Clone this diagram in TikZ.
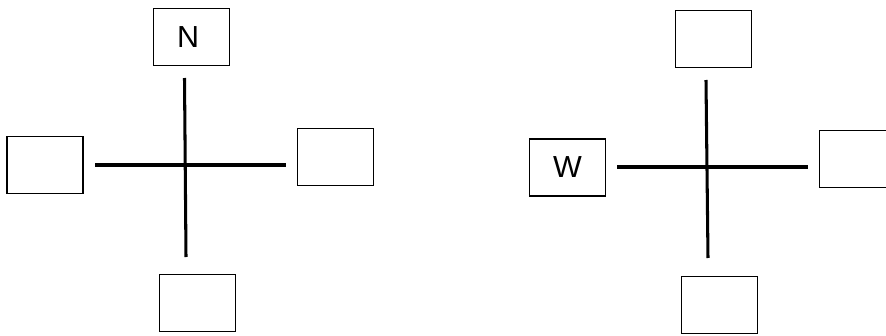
\documentclass[tikz,border=0pt]{standalone}
\usepackage{fontspec}
\setmainfont{Liberation Sans}
\usepackage{tikz}

\begin{document}
\begin{tikzpicture}[
    x=0.03cm, y=-0.03cm,
    every node/.style={draw, line width=1pt, minimum width=2.28cm, minimum height=1.71cm,
        inner sep=0pt, font=\fontsize{26}{30}\selectfont},
    arm/.style={line width=2.6pt}
]
\useasboundingbox (0,0) rectangle (886,336);

% left cross, N on top
\node (nbox) at (191.5,37) {\hspace{-0.2cm}\raisebox{-0.1cm}{N}};
\node (lbox) at (45,165) {};
\node (rbox) at (335.5,157) {};
\node (bbox) at (197.5,303) {};

\coordinate (ltop) at (184.5,78);
\coordinate (lbot) at (186,257);
\coordinate (lleft) at (95,165);
\coordinate (lright) at (286,165);
\draw[arm] (ltop) -- (lbot);
\draw[arm] (lleft) -- (lright);

% right cross, W on the left
\node (tbox2) at (713.5,39) {};
\node (wbox) at (567.5,167.5) {\raisebox{-0.06cm}{W}};
\node (rbox2) at (857.5,159) {};
\node (bbox2) at (719.5,305) {};

\coordinate (rtop) at (706,80);
\coordinate (rbot) at (708,258);
\coordinate (rleft) at (617,167);
\coordinate (rright) at (808,167);
\draw[arm] (rtop) -- (rbot);
\draw[arm] (rleft) -- (rright);
\end{tikzpicture}
\end{document}
